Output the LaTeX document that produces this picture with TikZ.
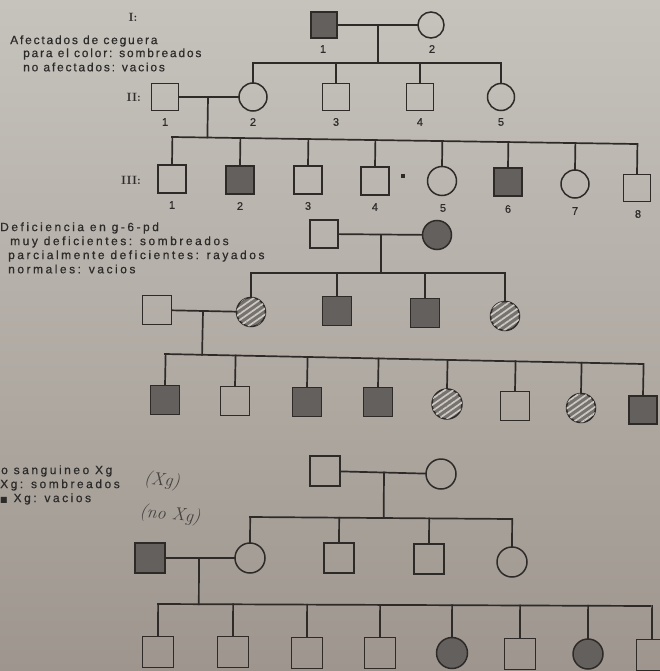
\documentclass[tikz,border=0pt]{standalone}
\usepackage{fontspec}
\newfontfamily\lbl[LetterSpace=15,FakeBold=0.6]{Liberation Sans}
\newfontfamily\lblw[LetterSpace=21,FakeBold=0.6]{Liberation Sans}
\newfontfamily\numfont[FakeBold=0.4]{Liberation Sans}
\newfontfamily\symfont{DejaVu Sans}
\usetikzlibrary{calc,patterns.meta}
\definecolor{bgtop}{RGB}{198,195,189}
\definecolor{bgmid}{RGB}{184,178,170}
\definecolor{bgbot}{RGB}{158,150,142}
\definecolor{affcol}{RGB}{100,96,93}
\definecolor{lncol}{RGB}{45,42,40}
\definecolor{txtcol}{RGB}{45,43,42}
\definecolor{hatbase}{RGB}{118,114,110}
\definecolor{hatline}{RGB}{205,200,195}
\definecolor{handcol}{RGB}{70,66,64}
\tikzset{
  ln/.style={draw=lncol, line width=1.7pt, line cap=rect},
  male/.style={rectangle, draw=lncol, line width=1.5pt, inner sep=0pt, minimum size=#1},
  female/.style={circle, draw=lncol, line width=1.5pt, inner sep=0pt, minimum size=#1},
  aff/.style={fill=affcol},
  hat/.style={fill=hatbase, postaction={pattern={Lines[angle=35,distance=5pt,line width=1.7pt]}, pattern color=hatline}},
  num/.style={inner sep=0pt, font=\numfont\fontsize{11}{13}\selectfont, text=txtcol},
  gen/.style={inner sep=0pt, font=\rmfamily\bfseries\fontsize{12}{14}\selectfont, text=txtcol},
  txt/.style={anchor=west, inner sep=0pt, font=\lbl\fontsize{12}{14}\selectfont, text=txtcol},
  txtw/.style={anchor=west, inner sep=0pt, font=\lblw\fontsize{12}{14}\selectfont, text=txtcol},
  hand/.style={inner sep=0pt, font=\itshape\fontsize{18}{18}\selectfont, text=handcol, rotate=-6}
}
\begin{document}
\begin{tikzpicture}[x=1pt,y=-1pt]
\useasboundingbox (0,0) rectangle (660,671);
\shade[top color=bgtop, middle color=bgmid, bottom color=bgbot] (0,0) rectangle (660,671);

% ---------------- Pedigree 1 ----------------
\node[txt] (t1a) at (10,41) {Afectados de ceguera};
\node[txt] (t1b) at (23,54) {para el color: sombreados};
\node[txt] (t1c) at (23,67) {no afectados: vacios};
\node[gen] (gI) at (133,17) {I:};
\node[gen, anchor=east] (gII) at (141,97) {II:};
\node[gen, anchor=east] (gIII) at (141,180) {III:};

\node[male=26, aff] (a1) at (324,25) {};
\node[female=26] (a2) at (431,25) {};
\node[num] (a1n) at (323,49) {1};
\node[num] (a2n) at (432,49) {2};
\coordinate (a12) at (378,25);
\coordinate (sA1) at (253,63);
\coordinate (sA2) at (501,63);

\node[male=27] (b1) at (165,97) {};
\node[female=28] (b2) at (253,97) {};
\node[male=27] (b3) at (336,97) {};
\node[male=27] (b4) at (420,97) {};
\node[female=27] (b5) at (501,97) {};
\node[num] (b1n) at (165,122) {1};
\node[num] (b2n) at (253,122) {2};
\node[num] (b3n) at (336,122) {3};
\node[num] (b4n) at (420,122) {4};
\node[num] (b5n) at (501,122) {5};
\coordinate (b12) at (208,97);
\coordinate (sB1) at (172,137);
\coordinate (sB2) at (636,144);

\node[male=28] (c1) at (172,179) {};
\node[male=28, aff] (c2) at (240,180) {};
\node[male=28] (c3) at (308,180) {};
\node[male=28] (c4) at (375,181) {};
\node[female=29] (c5) at (442,181) {};
\node[male=28, aff] (c6) at (508,182) {};
\node[female=28] (c7) at (575,184) {};
\node[male=27] (c8) at (637,188) {};
\node[fill=lncol, inner sep=0pt, minimum size=4pt] (dot) at (403,176) {};
\node[num] (c1n) at (172,205) {1};
\node[num] (c2n) at (240,206) {2};
\node[num] (c3n) at (308,206) {3};
\node[num] (c4n) at (375,207) {4};
\node[num] (c5n) at (443,208) {5};
\node[num] (c6n) at (508,209) {6};
\node[num] (c7n) at (575,211) {7};
\node[num] (c8n) at (638,214) {8};

\draw[ln] (a1) -- (a2);
\draw[ln] (a12) -- ($(sA1)!(a12)!(sA2)$);
\draw[ln] (sA1) -- (sA2);
\foreach \n in {2,...,5} \draw[ln] (b\n.north) -- ($(sA1)!(b\n.north)!(sA2)$);
\draw[ln] (b1) -- (b2);
\draw[ln] (b12) -- ($(sB1)!(b12)!(sB2)$);
\draw[ln] (sB1) -- (sB2);
\foreach \n in {1,...,8} \draw[ln] (c\n.north) -- ($(sB1)!(c\n.north)!(sB2)$);

% ---------------- Pedigree 2 ----------------
\node[txtw] (t2a) at (0,228) {Deficiencia en g-6-pd};
\node[txtw] (t2b) at (10,242) {muy deficientes: sombreados};
\node[txtw] (t2c) at (8,256) {parcialmente deficientes: rayados};
\node[txtw] (t2d) at (8,269) {normales: vacios};

\node[male=28] (d1) at (324,234) {};
\node[female=29, aff] (d2) at (437,235) {};
\coordinate (d12) at (381,234.5);
\coordinate (sD1) at (252,273);
\coordinate (sD2) at (505,273);

\node[male=29] (e1) at (157,310) {};
\node[female=29, hat] (e2) at (251,312) {};
\node[male=29, aff] (e3) at (337,311) {};
\node[male=29, aff] (e4) at (425,313) {};
\node[female=29, hat] (e5) at (505,316) {};
\coordinate (e12) at (203,311);
\coordinate (sE1) at (165,354);
\coordinate (sE2) at (643,364);

\node[male=29, aff] (f1) at (165,400) {};
\node[male=29] (f2) at (235,401) {};
\node[male=29, aff] (f3) at (307,402) {};
\node[male=29, aff] (f4) at (378,402) {};
\node[female=30, hat] (f5) at (447,404) {};
\node[male=29] (f6) at (515,406) {};
\node[female=29, hat] (f7) at (581,408) {};
\node[male=28, aff] (f8) at (643,410) {};

\draw[ln] (d1) -- (d2);
\draw[ln] (d12) -- ($(sD1)!(d12)!(sD2)$);
\draw[ln] (sD1) -- (sD2);
\foreach \n in {2,...,5} \draw[ln] (e\n.north) -- ($(sD1)!(e\n.north)!(sD2)$);
\draw[ln] (e1) -- (e2);
\draw[ln] (e12) -- ($(sE1)!(e12)!(sE2)$);
\draw[ln] (sE1) -- (sE2);
\foreach \n in {1,...,8} \draw[ln] (f\n.north) -- ($(sE1)!(f\n.north)!(sE2)$);

% ---------------- Pedigree 3 ----------------
\node[txtw] (t3a) at (1,471) {o sanguineo Xg};
\node[txtw] (t3b) at (0,485) {Xg: sombreados};
\node[txtw] (t3c) at (0,499) {{\symfont\fontsize{8}{10}\selectfont ■} Xg: vacios};
\node[hand] (hw1) at (162,481) {(Xg)};
\node[hand] (hw2) at (170,515) {(no Xg)};

\node[male=30] (g1) at (325,471) {};
\node[female=30] (g2) at (441,474) {};
\coordinate (g12) at (384,472.5);
\coordinate (sG1) at (250,517);
\coordinate (sG2) at (511,519);

\node[male=30, aff] (h0) at (150,558) {};
\node[female=30] (h1) at (250,558) {};
\node[male=30] (h2) at (339,558) {};
\node[male=30] (h3) at (429,559) {};
\node[female=30] (h4) at (512,562) {};
\coordinate (h01) at (199,558);
\coordinate (sH1) at (158,604);
\coordinate (sH2) at (650,606);

\node[male=31] (k1) at (158,652) {};
\node[male=31] (k2) at (233,652) {};
\node[male=31] (k3) at (307,653) {};
\node[male=31] (k4) at (380,653) {};
\node[female=31, aff] (k5) at (452,653) {};
\node[male=31] (k6) at (520,654) {};
\node[female=30, aff] (k7) at (588,654) {};
\node[male=31] (k8) at (652,655) {};

\draw[ln] (g1) -- (g2);
\draw[ln] (g12) -- ($(sG1)!(g12)!(sG2)$);
\draw[ln] (sG1) -- (sG2);
\foreach \n in {1,...,4} \draw[ln] (h\n.north) -- ($(sG1)!(h\n.north)!(sG2)$);
\draw[ln] (h0) -- (h1);
\draw[ln] (h01) -- ($(sH1)!(h01)!(sH2)$);
\draw[ln] (sH1) -- (sH2);
\foreach \n in {1,...,8} \draw[ln] (k\n.north) -- ($(sH1)!(k\n.north)!(sH2)$);
\end{tikzpicture}
\end{document}
